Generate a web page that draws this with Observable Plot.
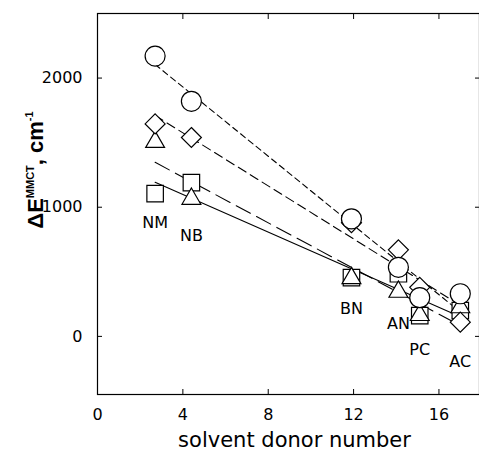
<!DOCTYPE html>
<html><head><meta charset="utf-8">
<script src="https://cdn.jsdelivr.net/npm/d3@7"></script>
<script src="https://cdn.jsdelivr.net/npm/@observablehq/plot@0.6"></script>
<style>body{margin:0;background:#fff} svg{display:block}</style>
</head><body><div id="chart"></div>
<script>
// Solvents and their donor numbers
const solvents = ["NM", "NB", "BN", "AN", "PC", "AC"];
const donorNumber = [2.7, 4.4, 11.9, 14.1, 15.1, 17.0];
// ΔE(MMCT), cm^-1, one array per marker series
const circleValues = [2170, 1820, 910, 535, 300, 330];
const diamondValues = [1645, 1540, 880, 670, 380, 110];
const triangleValues = [1505, 1065, 450, 345, 165, 225];
const squareValues = [1105, 1190, 455, 485, 160, 200];
// solvent label anchors (data units)
const labelY = [880, 780, 216, 100, -108, -200];
const xTicks = [0, 4, 8, 12, 16];
const yTicks = [0, 1000, 2000];

const rows = vals => donorNumber.map((x, i) => ({x, y: vals[i]}));
const mk = {fill: "white", stroke: "black", strokeWidth: 1.2};
const ln = {x: "x", y: "y", ci: 0, stroke: "black", strokeWidth: 1.1};

const plot = Plot.plot({
  width: 479, height: 460,
  marginLeft: 97, marginRight: 0, marginTop: 13, marginBottom: 66,
  style: {fontFamily: "DejaVu Sans", fontSize: "16px", color: "black", background: "white"},
  x: {domain: [0, 17.9]},
  y: {domain: [-450, 2500]},
  marks: [
    Plot.frame({stroke: "black", strokeWidth: 1.2}),
    Plot.axisX(xTicks, {anchor: "bottom", tickSize: -5, tickPadding: 19, label: null, fontSize: 16}),
    Plot.axisX(xTicks, {anchor: "top", tickSize: -5, tickFormat: () => "", label: null}),
    Plot.axisY(yTicks, {anchor: "left", tickSize: -5, tickPadding: 20, tickFormat: d3.format("d"), label: null, fontSize: 16}),
    Plot.axisY(yTicks, {anchor: "right", tickSize: -5, tickFormat: () => "", label: null}),
    Plot.linearRegressionY(rows(squareValues), {...ln}),
    Plot.linearRegressionY(rows(triangleValues), {...ln, strokeDasharray: "16,7"}),
    Plot.linearRegressionY(rows(diamondValues), {...ln, strokeDasharray: "9,5"}),
    Plot.linearRegressionY(rows(circleValues), {...ln, strokeDasharray: "6,4"}),
    Plot.dot(rows(squareValues), {x: "x", y: "y", symbol: "square", r: 9.3, ...mk}),
    Plot.dot(rows(triangleValues), {x: "x", y: "y", symbol: "triangle", r: 7, ...mk}),
    Plot.dot(rows(diamondValues), {x: "x", y: "y", symbol: "diamond2", r: 9, ...mk}),
    Plot.dot(rows(circleValues), {x: "x", y: "y", symbol: "circle", r: 10, ...mk}),
    Plot.text(solvents, {x: (d, i) => donorNumber[i], y: (d, i) => labelY[i], text: d => d, fontSize: 16, fill: "black"}),
    Plot.text(["solvent donor number"], {frameAnchor: "bottom", dy: 52, dx: 6, fontSize: 21, fill: "black", style: "letter-spacing:0.5px"})
  ]
});

const t = d3.select(plot).append("text")
  .attr("transform", "translate(43,170) rotate(-90)")
  .attr("text-anchor", "middle")
  .attr("font-family", "Liberation Sans, Arial, sans-serif")
  .attr("font-weight", "bold")
  .attr("font-size", 22)
  .attr("fill", "black");
t.append("tspan").text("ΔE");
t.append("tspan").attr("font-size", 11).attr("dy", -9).text("MMCT");
t.append("tspan").attr("dy", 9).text(", cm");
t.append("tspan").attr("font-size", 11).attr("dy", -10).text("-1");

document.getElementById("chart").appendChild(plot);
</script>
</body></html>
